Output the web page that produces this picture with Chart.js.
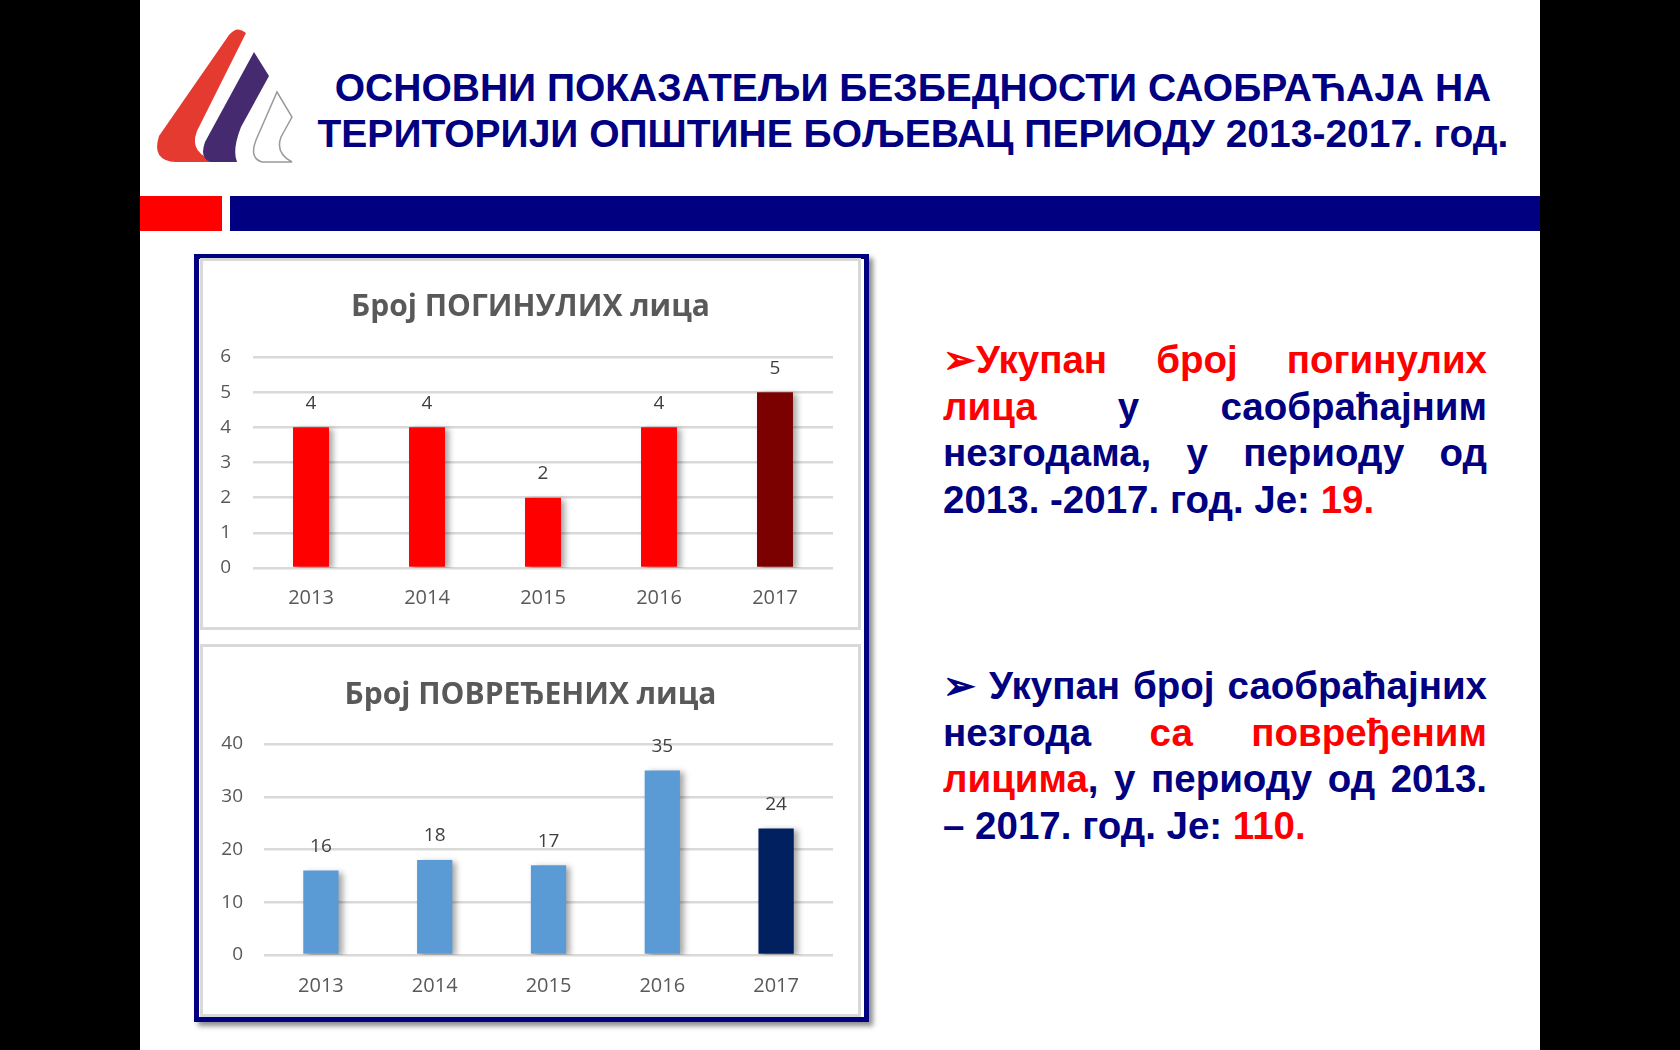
<!DOCTYPE html>
<html lang="sr">
<head>
<meta charset="utf-8">
<title>Основни показатељи безбедности саобраћаја – Бољевац 2013-2017</title>
<script src="https://cdn.jsdelivr.net/npm/chart.js@4.4.1/dist/chart.umd.min.js"></script>
<style>
    html, body { margin: 0; padding: 0; }
    body {
        width: 1680px; height: 1050px; background: #000;
        position: relative; overflow: hidden;
        font-family: "Liberation Sans", Arial, sans-serif;
    }
    .slide { position: absolute; left: 140px; top: 0; width: 1400px; height: 1050px; background: #fff; }
    .logo { position: absolute; left: 150px; top: 25px; }
    .title {
        position: absolute; left: 263px; width: 1300px; top: 65px;
        text-align: center; font-weight: bold; font-size: 39px; line-height: 46px;
        color: #000080; white-space: nowrap;
    }
    .bar-red { position: absolute; left: 140px; top: 196px; width: 82px; height: 35px; background: #ff0000; }
    .bar-navy { position: absolute; left: 230px; top: 196px; width: 1310px; height: 35px; background: #000080; }
    .frame {
        position: absolute; left: 194px; top: 254px; width: 675px; height: 768px;
        box-sizing: border-box; border: 5px solid #000080;
        box-shadow: 4px 4px 5px rgba(0, 0, 0, 0.45);
    }
    .panel { position: absolute; box-sizing: border-box; border: 3px solid #d9d9d9; background: #fff; }
    .chart-box { position: absolute; }
    .txt {
        position: absolute; left: 943px; width: 544px;
        font-weight: bold; font-size: 38.5px; line-height: 46.5px; color: #000080;
    }
    .txt div { text-align: justify; text-align-last: justify; }
    .txt div.last { text-align-last: left; }
    .red { color: #ff0000; }
</style>
</head>
<body>
<div class="slide"></div>

<svg class="logo" width="150" height="145" viewBox="150 25 150 145">
    <path d="M229,35 Q237,25 246,33 L197,131 Q188,154 218,162 L176,162 Q151,161 159,136 Z" fill="#e53a30"/>
    <path d="M254,52 L269,76 L241,127 Q232,150 237,162 L211,162 Q199,159 205,142 Z" fill="#452a70"/>
    <path d="M277,92 L292,117 L281,137 Q275,153 292,162 L262,162 Q249,158 256,140 Z" fill="#fff" stroke="#9a9a9a" stroke-width="1.5"/>
</svg>

<div class="title">ОСНОВНИ ПОКАЗАТЕЉИ БЕЗБЕДНОСТИ САОБРАЋАЈА НА<br>ТЕРИТОРИЈИ ОПШТИНЕ БОЉЕВАЦ ПЕРИОДУ 2013-2017. год.</div>

<div class="bar-red"></div>
<div class="bar-navy"></div>

<div class="frame"></div>
<div class="panel" style="left:200px; top:258px; width:661px; height:372px;"></div>
<div class="panel" style="left:200px; top:644px; width:661px; height:373px;"></div>
<div class="chart-box" style="left:203px; top:261px; width:655px; height:366px;"><canvas id="killedChart"></canvas></div>
<div class="chart-box" style="left:203px; top:647px; width:655px; height:367px;"><canvas id="injuredChart"></canvas></div>

<div class="txt" style="top:337px;">
    <div><span class="red">➢Укупан број погинулих</span></div>
    <div><span class="red">лица</span> у саобраћајним</div>
    <div>незгодама, у периоду од</div>
    <div class="last">2013. -2017. год. Је: <span class="red">19.</span></div>
</div>
<div class="txt" style="top:663px;">
    <div>➢ Укупан број саобраћајних</div>
    <div>незгода <span class="red">са повређеним</span></div>
    <div><span class="red">лицима</span>, у периоду од 2013.</div>
    <div class="last">– 2017. год. Је: <span class="red">110.</span></div>
</div>

<script>
const years = ['2013', '2014', '2015', '2016', '2017'];
const killed = [4, 4, 2, 4, 5];
const injured = [16, 18, 17, 35, 24];
const killedColors = ['#ff0000', '#ff0000', '#ff0000', '#ff0000', '#7b0000'];
const injuredColors = ['#5b9bd5', '#5b9bd5', '#5b9bd5', '#5b9bd5', '#002060'];
const killedTitle = 'Број ПОГИНУЛИХ лица';
const injuredTitle = 'Број ПОВРЕЂЕНИХ лица';

const chartFont = '"Open Sans", "Noto Sans", sans-serif';

// soft shadow right of each bar, like the office chart
const barShadow = {
    id: 'barShadow',
    beforeDatasetsDraw(chart) {
        const c = chart.ctx;
        c.save();
        c.shadowColor = 'rgba(0, 0, 0, 0.35)';
        c.shadowBlur = 6;
        c.shadowOffsetX = 4;
        c.shadowOffsetY = 2;
    },
    afterDatasetsDraw(chart) {
        chart.ctx.restore();
    }
};

const valueLabels = {
    id: 'valueLabels',
    afterDraw(chart) {
        const ctx = chart.ctx;
        const ds = chart.data.datasets[0];
        ctx.save();
        ctx.font = '19px ' + chartFont;
        ctx.fillStyle = '#404040';
        ctx.textAlign = 'center';
        ctx.textBaseline = 'middle';
        chart.getDatasetMeta(0).data.forEach((bar, i) => {
            ctx.fillText(ds.data[i], bar.x, bar.y - 24);
        });
        ctx.restore();
    }
};

function makeChart(id, title, values, colors, yMax, yStep, cfg) {
    return new Chart(document.getElementById(id), {
        type: 'bar',
        data: {
            labels: years,
            datasets: [{
                data: values,
                backgroundColor: colors,
                categoryPercentage: 1,
                barPercentage: 0.31
            }]
        },
        options: {
            responsive: true,
            maintainAspectRatio: false,
            animation: false,
            layout: { padding: 0 },
            plugins: {
                legend: { display: false },
                tooltip: { enabled: false },
                title: {
                    display: true,
                    text: title,
                    color: '#595959',
                    font: { family: chartFont, size: 30, weight: 'bold' },
                    padding: { top: cfg.titleTop, bottom: cfg.titleBottom }
                }
            },
            scales: {
                x: {
                    grid: { display: false, drawTicks: false },
                    border: { display: false },
                    ticks: { color: '#595959', font: { family: chartFont, size: 20 }, padding: cfg.xPad },
                    afterFit(s) { s.height = 59; }
                },
                y: {
                    min: 0,
                    max: yMax,
                    ticks: { stepSize: yStep, color: '#595959', font: { family: chartFont, size: 19 }, padding: cfg.yPad },
                    grid: { color: '#d9d9d9', lineWidth: 2.5, drawTicks: false },
                    border: { display: false },
                    afterFit(s) { s.width = cfg.yWidth; }
                },
                // empty right gutter so the title stays centred on the whole panel
                gutter: {
                    position: 'right',
                    grid: { display: false, drawTicks: false },
                    border: { display: false },
                    ticks: { display: false },
                    afterFit(s) { s.width = 25; }
                }
            }
        },
        plugins: [barShadow, valueLabels]
    });
}

makeChart('killedChart', killedTitle, killed, killedColors, 6, 1,
    { titleTop: 28, titleBottom: 32, xPad: 18, yPad: 22, yWidth: 50 });
makeChart('injuredChart', injuredTitle, injured, injuredColors, 40, 10,
    { titleTop: 30, titleBottom: 31, xPad: 19, yPad: 21, yWidth: 61 });
</script>
</body>
</html>
